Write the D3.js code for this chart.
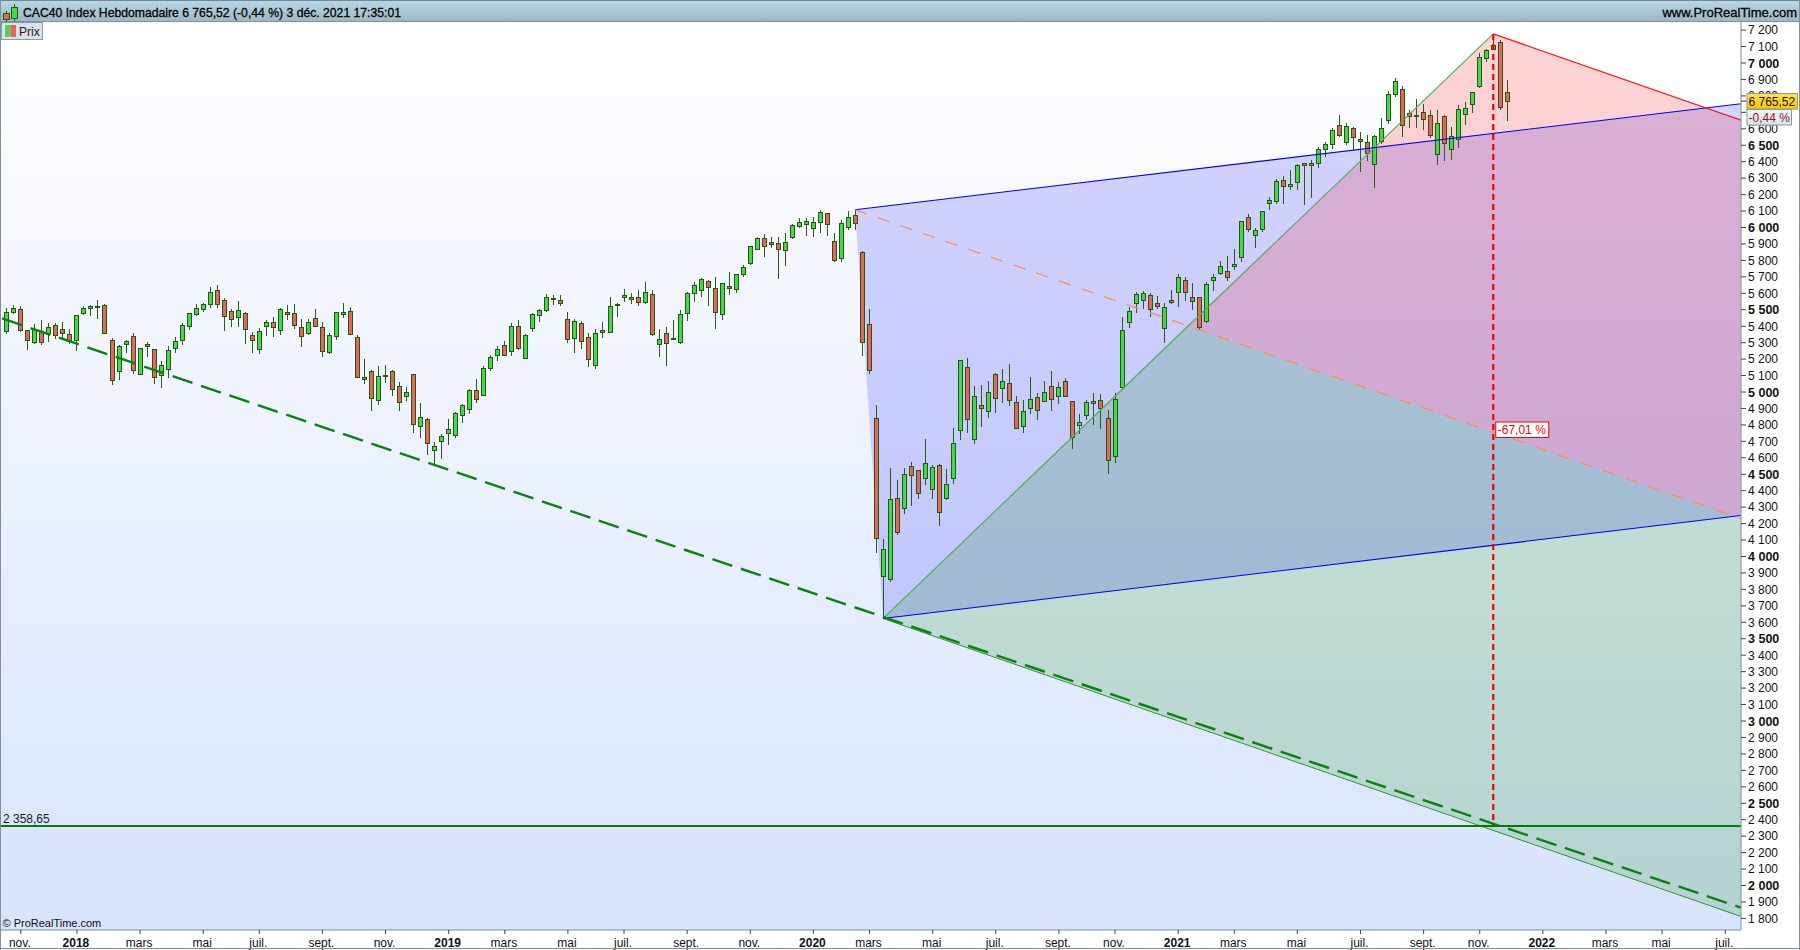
<!DOCTYPE html>
<html>
<head>
<meta charset="utf-8">
<style>
html,body{margin:0;padding:0;background:#fff;overflow:hidden}
svg{display:block}
text{font-family:"Liberation Sans",Arial,sans-serif}
</style>
<script src="https://cdn.jsdelivr.net/npm/d3@7"></script>
</head>
<body>
<script>
const opens=[5366,5480,5500,5372,5297,5370,5352,5403,5378,5348,
5310,5474,5506,5512,5524,5312,5121,5287,5336,5103,
5287,5257,5097,5135,5261,5310,5397,5467,5498,5528,
5615,5555,5488,5449,5476,5342,5255,5395,5421,5372,
5482,5476,5390,5352,5445,5390,5236,5334,5467,5487,
5330,5086,5123,4945,5091,5123,5032,4969,5105,4787,
4831,4641,4696,4744,4732,4854,4890,5008,4975,5139,
5218,5281,5242,5396,5200,5384,5461,5492,5558,5554,
5439,5321,5415,5330,5157,5372,5358,5524,5571,5573,
5573,5540,5591,5285,5354,5318,5297,5474,5595,5613,
5670,5627,5467,5640,5619,5710,5777,5862,5931,5907,
5901,5856,5935,6002,6014,5990,6026,6083,5913,5808,
5996,6071,5846,5409,4838,3876,3858,4352,4289,4546,
4522,4471,4404,4552,4350,4471,4763,5148,4708,4917,
4878,5105,5018,5050,4935,4787,4896,4965,4939,5032,
4969,5062,4941,4793,4854,4941,4947,4838,4605,5024,
5419,5534,5552,5585,5536,5382,5554,5601,5676,5573,
5573,5429,5674,5720,5730,5759,5813,6059,5947,5984,
6142,6154,6283,6245,6275,6387,6387,6385,6470,6500,
6618,6512,6599,6533,6514,6385,6518,6646,6804,6836,
6691,6676,6697,6678,6439,6672,6470,6533,6682,6743,
6859,7029,7077,7122,6818];
const highs=[5506,5526,5520,5372,5409,5435,5415,5419,5421,5378,
5463,5518,5526,5557,5530,5324,5281,5314,5354,5267,
5299,5257,5186,5275,5332,5415,5476,5530,5536,5636,
5646,5567,5504,5550,5482,5362,5386,5435,5453,5506,
5526,5532,5439,5439,5500,5421,5354,5481,5536,5512,
5344,5196,5129,5155,5161,5129,5056,5026,5105,4931,
4837,4694,4740,4831,4874,4922,5014,5076,5153,5220,
5275,5305,5415,5435,5348,5475,5500,5591,5585,5585,
5481,5439,5427,5354,5380,5423,5575,5538,5623,5599,
5617,5666,5617,5380,5393,5435,5496,5605,5666,5688,
5678,5696,5658,5727,5712,5769,5883,5937,5958,5939,
5939,5964,6016,6055,6055,6061,6103,6083,5964,6043,
6097,6103,5852,5502,4919,4103,4534,4463,4534,4572,
4522,4710,4554,4558,4530,4779,5192,5204,5034,5040,
5065,5113,5135,5168,4973,4949,5089,4990,5065,5125,
5058,5083,4941,4864,4947,4990,4983,4888,4990,5453,
5514,5605,5609,5597,5581,5536,5617,5712,5696,5660,
5573,5666,5712,5793,5824,5866,6036,6077,5992,6097,
6182,6289,6310,6346,6380,6391,6407,6486,6514,6599,
6680,6630,6606,6575,6559,6559,6660,6824,6903,6855,
6711,6776,6747,6711,6711,6678,6606,6741,6759,6818,
7057,7085,7171,7136,6893];
const lows=[5352,5474,5364,5253,5291,5285,5301,5320,5318,5287,
5247,5465,5459,5443,5352,5042,5071,5235,5109,5103,
5210,5048,5024,5085,5237,5283,5376,5461,5486,5510,
5508,5368,5393,5393,5291,5235,5229,5338,5332,5344,
5437,5382,5273,5344,5394,5212,5230,5313,5447,5346,
5084,5048,4882,4918,5052,4973,4882,4943,4748,4718,
4617,4548,4592,4675,4720,4809,4864,4931,4975,5125,
5186,5214,5216,5255,5200,5364,5423,5485,5528,5520,
5295,5234,5259,5149,5137,5328,5358,5453,5544,5532,
5520,5532,5340,5212,5156,5316,5291,5429,5544,5575,
5520,5380,5435,5587,5599,5696,5769,5862,5818,5872,
5684,5763,5927,5996,5945,5939,5964,5945,5787,5787,
5982,5982,5216,5107,4016,3620,3839,4129,4257,4305,
4348,4433,4348,4184,4342,4439,4706,4749,4682,4785,
4840,4870,4931,4913,4775,4749,4864,4828,4939,4882,
4925,4969,4651,4743,4828,4797,4773,4500,4566,5012,
5386,5478,5502,5453,5502,5295,5532,5514,5550,5496,
5374,5417,5611,5708,5672,5741,5787,5971,5872,5971,
6103,6140,6140,6225,6225,6133,6176,6360,6427,6474,
6549,6500,6468,6336,6401,6239,6506,6628,6790,6547,
6601,6603,6589,6541,6377,6401,6407,6480,6622,6693,
6846,7002,7077,6713,6644];
const closes=[5482,5506,5370,5310,5378,5305,5391,5340,5354,5303,
5463,5506,5518,5518,5354,5069,5275,5305,5127,5263,
5273,5085,5160,5251,5305,5403,5476,5506,5530,5603,
5530,5455,5439,5494,5376,5310,5366,5421,5391,5500,
5467,5401,5334,5421,5394,5242,5342,5481,5481,5346,
5084,5072,4957,5093,5099,5012,4933,4995,4799,4843,
4684,4667,4728,4771,4868,4916,5008,4951,5141,5208,
5257,5218,5396,5261,5342,5469,5494,5573,5566,5534,
5315,5427,5305,5194,5354,5360,5518,5530,5585,5561,
5540,5603,5346,5318,5291,5324,5470,5597,5646,5682,
5632,5480,5658,5625,5712,5755,5883,5931,5881,5893,
5862,5907,6010,6028,6034,6028,6089,6014,5796,6022,
6059,6020,5297,5127,4107,4042,4346,4143,4497,4489,
4382,4564,4540,4265,4437,4686,5190,4830,4971,4896,
4996,4957,5062,4945,4775,4880,4953,4884,4996,4951,
5026,4969,4720,4813,4935,4927,4896,4581,4953,5372,
5488,5591,5597,5498,5516,5512,5540,5694,5601,5546,
5388,5651,5694,5761,5692,5773,6034,5984,5980,6095,
6162,6277,6247,6259,6376,6372,6372,6472,6502,6587,
6555,6612,6543,6518,6446,6555,6599,6806,6885,6616,
6670,6680,6652,6555,6630,6506,6551,6715,6721,6818,
7033,7079,7104,6725,6765.52];

// Drawing-tool anchors: [week index from first candle, price]
const ptHigh=[121,6105], ptLow=[125,3620], ptApex=[212,7174], ptPivot=[168.3,5400];
const edgeWeek=247.3;
const upperBandEnd=[edgeWeek,6749], lowerBandEnd=[edgeWeek,4246];
const redEnd=[edgeWeek,6650], orangeEnd=[edgeWeek,4228], thinGreenEnd=[edgeWeek,1809];
const dashedStart=[-0.6,5444], dashedEnd=[edgeWeek,1863];
const supportLevel=2358.65;
const lastPrice=6765.52;

const yTicks=d3.range(1800,7300,100);
const xTickLabels=["nov.","2018","mars","mai","juil.","sept.","nov.","2019","mars","mai","juil.","sept.","nov.","2020","mars","mai","juil.","sept.","nov.","2021","mars","mai","juil.","sept.","nov.","2022","mars","mai","juil."];

const W=1800,H=950,plotLeft=1,plotRight=1741,plotTop=22,plotBottom=930;
const firstWeek=new Date(Date.UTC(2017,9,23));
const lastWeek=new Date(Date.UTC(2021,10,29));
const weekDate=i=>new Date(firstWeek.getTime()+i*7*864e5);

const x=d3.scaleUtc().domain([firstWeek,lastWeek]).range([6.3,1507.3]);
const y=d3.scaleLinear().domain([2000,7000]).range([885,62.5]);
const px=p=>x(weekDate(p[0])), py=p=>y(p[1]);
const pathOf=pts=>d3.line().x(px).y(py)(pts);

const svg=d3.select("body").append("svg").attr("width",W).attr("height",H).attr("viewBox",`0 0 ${W} ${H}`);
const defs=svg.append("defs");
function grad(id,stops){
  const g=defs.append("linearGradient").attr("id",id).attr("x1",0).attr("y1",0).attr("x2",0).attr("y2",1);
  stops.forEach(s=>g.append("stop").attr("offset",s[0]).attr("stop-color",s[1]));
}
grad("bg",[[0,"#ffffff"],[1,"#d8e3fd"]]);
grad("bar",[[0,"#b9d7e5"],[1,"#9ab7c3"]]);
grad("gold",[[0,"#ffe24a"],[1,"#ffc400"]]);
grad("pale",[[0,"#f2f6fc"],[1,"#d6e2f2"]]);
defs.append("clipPath").attr("id","plot").append("rect")
  .attr("x",plotLeft).attr("y",plotTop).attr("width",plotRight-plotLeft).attr("height",plotBottom-plotTop);

svg.append("rect").attr("width",W).attr("height",H).attr("fill","#fff");
svg.append("rect").attr("x",plotLeft).attr("y",plotTop).attr("width",plotRight-plotLeft).attr("height",plotBottom-plotTop).attr("fill","url(#bg)");

const plot=svg.append("g").attr("clip-path","url(#plot)");
// translucent zones
plot.append("path").attr("d",pathOf([ptHigh,upperBandEnd,lowerBandEnd,ptLow])+"Z").attr("fill","rgba(0,0,255,0.16)");
plot.append("path").attr("d",pathOf([ptApex,redEnd,orangeEnd,ptPivot])+"Z").attr("fill","rgba(255,0,0,0.17)");
plot.append("path").attr("d",pathOf([ptLow,ptPivot,orangeEnd,thinGreenEnd])+"Z").attr("fill","rgba(0,128,0,0.17)");

// candles
const idx=d3.range(opens.length);
const cx=i=>Math.round(x(weekDate(i)))+0.5;
const candles=plot.append("g").attr("shape-rendering","crispEdges");
candles.selectAll("line").data(idx).join("line")
  .attr("x1",cx).attr("x2",cx).attr("y1",i=>y(highs[i])).attr("y2",i=>y(lows[i]))
  .attr("stroke","#2a5c12").attr("stroke-width",1);
candles.selectAll("rect").data(idx).join("rect")
  .attr("x",i=>cx(i)-2).attr("width",4)
  .attr("y",i=>Math.round(y(Math.max(opens[i],closes[i])))+0.5)
  .attr("height",i=>Math.max(1,Math.round(Math.abs(y(opens[i])-y(closes[i])))))
  .attr("fill",i=>closes[i]>=opens[i]?"#44d84a":"#e8655f")
  .attr("stroke","#24580f").attr("stroke-width",1);

// tool lines
const lines=plot.append("g").attr("fill","none");
lines.append("path").attr("d",pathOf([ptLow,ptApex])).attr("stroke","#55b055").attr("stroke-width",1.2);
lines.append("path").attr("d",pathOf([ptLow,thinGreenEnd])).attr("stroke","#2f962f").attr("stroke-width",1);
lines.append("path").attr("d",pathOf([ptHigh,upperBandEnd])).attr("stroke","#0000f0").attr("stroke-width",1.1);
lines.append("path").attr("d",pathOf([ptLow,lowerBandEnd])).attr("stroke","#0000f0").attr("stroke-width",1.1);
lines.append("path").attr("d",pathOf([ptHigh,orangeEnd])).attr("stroke","#ff8c50").attr("stroke-width",1.2).attr("stroke-dasharray","12.5 11.5");
lines.append("path").attr("d",pathOf([ptApex,redEnd])).attr("stroke","#f52020").attr("stroke-width",1.3);
lines.append("path").attr("d",pathOf([dashedStart,dashedEnd])).attr("stroke","#0a820f").attr("stroke-width",2.4).attr("stroke-dasharray","21 9");
lines.append("line").attr("x1",plotLeft).attr("x2",plotRight).attr("y1",y(supportLevel)).attr("y2",y(supportLevel)).attr("stroke","#067a06").attr("stroke-width",2);
lines.append("line").attr("x1",px(ptApex)).attr("x2",px(ptApex)).attr("y1",py(ptApex)).attr("y2",y(supportLevel)-1)
  .attr("stroke","#f00000").attr("stroke-width",2.2).attr("stroke-dasharray","6 4");

// texts inside the plot
svg.append("text").attr("x",3).attr("y",823).attr("font-size",12).attr("fill","#1c1c1c").text("2 358,65");
svg.append("text").attr("x",2.5).attr("y",927).attr("font-size",11).attr("fill","#111").text("© ProRealTime.com");
const pct=svg.append("g").attr("transform",`translate(${px(ptApex)+2.5},422)`);
pct.append("rect").attr("x",0).attr("y",0).attr("width",53).attr("height",15.5).attr("fill","#fff").attr("stroke","#f00000").attr("stroke-width",1);
pct.append("text").attr("x",2).attr("y",12).attr("font-size",12).attr("fill","#f00000").text("-67,01 %");

// axes
const loc=d3.formatLocale({decimal:",",thousands:" ",grouping:[3],currency:["","€"]});
const fmt=loc.format(",d");
const yAxis=d3.axisRight(y).tickValues(yTicks).tickFormat(fmt).tickSize(5).tickPadding(2);
const gy=svg.append("g").attr("transform",`translate(${plotRight},0)`).call(yAxis);
gy.selectAll("text").attr("font-family","'Liberation Sans',Arial,sans-serif").attr("dy","0.36em")
  .attr("fill","#111").attr("font-weight",d=>d%500===0?"bold":"normal").attr("font-size",d=>d%500===0?12.5:12);
gy.selectAll("line").attr("stroke","#444");
gy.select(".domain").attr("stroke","#7c909e").attr("d",`M0,${plotTop}V${plotBottom}`);

const xTickDates=xTickLabels.map((_,k)=>d3.utcMonday.ceil(new Date(Date.UTC(2017,10+2*k,1))));
const xAxis=d3.axisBottom(x).tickValues(xTickDates).tickFormat((d,k)=>xTickLabels[k]).tickSize(4).tickPadding(4);
const gx=svg.append("g").attr("transform",`translate(0,${plotBottom})`).call(xAxis);
gx.selectAll("text").attr("font-size",12).attr("font-family","'Liberation Sans',Arial,sans-serif").attr("dx",-1)
  .attr("fill","#111").attr("font-weight",(d,k)=>/^\d/.test(xTickLabels[k])?"bold":"normal");
gx.selectAll("line").attr("stroke","#444");
gx.select(".domain").attr("stroke","#7c909e").attr("d",`M${plotLeft},0H${plotRight}`);

// price flags
const flag=svg.append("g");
flag.append("line").attr("x1",plotRight).attr("x2",1747).attr("y1",y(lastPrice)).attr("y2",y(lastPrice)).attr("stroke","#333");
flag.append("rect").attr("x",1747).attr("y",93.5).attr("width",50.5).attr("height",15.5).attr("fill","url(#gold)").attr("stroke","#8a9aa0");
flag.append("text").attr("x",1748.5).attr("y",105.5).attr("font-size",12).attr("fill","#111").text("6 765,52");
flag.append("rect").attr("x",1747).attr("y",109.5).attr("width",44.5).attr("height",15.5).attr("fill","url(#pale)").attr("stroke","#8a9aa0");
flag.append("text").attr("x",1748.5).attr("y",121.5).attr("font-size",12).attr("fill","#a01010").text("-0,44 %");

// title bar
svg.append("rect").attr("x",0).attr("y",0).attr("width",W).attr("height",22).attr("fill","url(#bar)");
svg.append("rect").attr("x",0).attr("y",0).attr("width",W).attr("height",1).attr("fill","#6f8896");
svg.append("rect").attr("x",0).attr("y",21).attr("width",W).attr("height",1).attr("fill","#7c909e");
const icon=svg.append("g").attr("shape-rendering","crispEdges");
icon.append("line").attr("x1",6.5).attr("x2",6.5).attr("y1",11).attr("y2",22).attr("stroke","#2a5c12");
icon.append("rect").attr("x",3.5).attr("y",13.5).attr("width",6).attr("height",6).attr("fill","#e8655f").attr("stroke","#24580f");
icon.append("line").attr("x1",14.5).attr("x2",14.5).attr("y1",4).attr("y2",21).attr("stroke","#2a5c12");
icon.append("rect").attr("x",11.5).attr("y",7.5).attr("width",6).attr("height",11).attr("fill","#44d84a").attr("stroke","#24580f");
svg.append("text").attr("x",23).attr("y",17).attr("font-size",13).attr("fill","#000").attr("stroke","#000").attr("stroke-width",0.3)
  .attr("textLength",378).attr("lengthAdjust","spacingAndGlyphs")
  .text("CAC40 Index Hebdomadaire 6 765,52 (-0,44 %) 3 déc. 2021 17:35:01");
svg.append("text").attr("x",1797).attr("y",17).attr("text-anchor","end").attr("font-size",13).attr("fill","#000").attr("stroke","#000").attr("stroke-width",0.3)
  .text("www.ProRealTime.com");

// legend chip
svg.append("rect").attr("x",1.5).attr("y",22.5).attr("width",41).attr("height",17).attr("fill","#dbe3e8").attr("stroke","#8a9aa6");
svg.append("rect").attr("x",5).attr("y",25).attr("width",5.5).attr("height",12).attr("fill","#4fd455");
svg.append("rect").attr("x",10.5).attr("y",25).attr("width",5.5).attr("height",12).attr("fill","#e8655f");
svg.append("text").attr("x",19).attr("y",35.5).attr("font-size",12).attr("fill","#222").text("Prix");

// outer frame
svg.append("rect").attr("x",0).attr("y",0).attr("width",1).attr("height",H).attr("fill","#7c909e");
svg.append("rect").attr("x",0).attr("y",948).attr("width",W).attr("height",1).attr("fill","#7c909e");
svg.append("rect").attr("x",1799).attr("y",0).attr("width",1).attr("height",H).attr("fill","#7c909e");
</script>
</body>
</html>
